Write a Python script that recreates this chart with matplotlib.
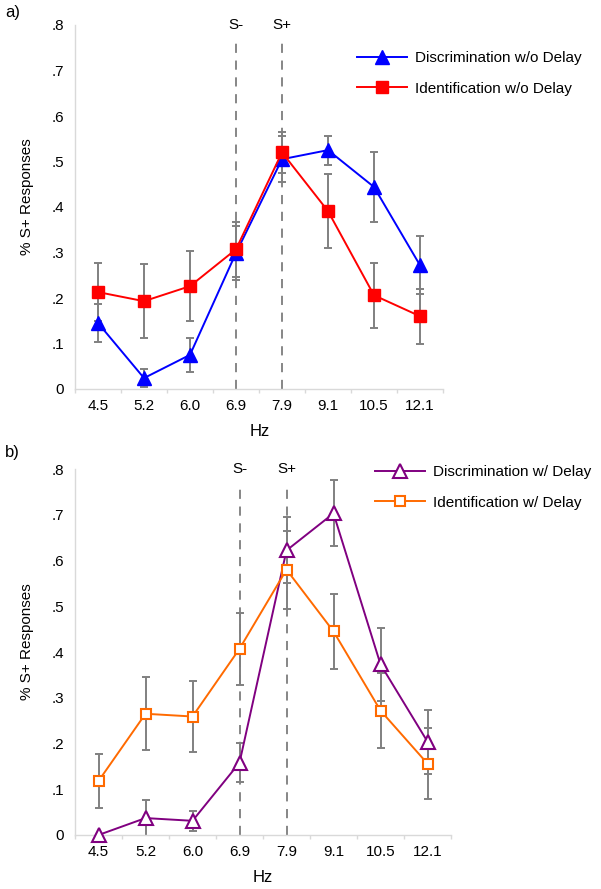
import numpy as np
import matplotlib
matplotlib.use("Agg")
import matplotlib.pyplot as plt

plt.rcParams['font.family'] = ['Liberation Sans', 'DejaVu Sans']

hz = ["4.5", "5.2", "6.0", "6.9", "7.9", "9.1", "10.5", "12.1"]

# panel a: without delay
disc_nodelay = [0.145, 0.024, 0.075, 0.299, 0.505, 0.525, 0.444, 0.272]
disc_nodelay_err = [0.041, 0.020, 0.038, 0.060, 0.050, 0.032, 0.077, 0.064]
ident_nodelay = [0.213, 0.193, 0.226, 0.307, 0.520, 0.391, 0.206, 0.160]
ident_nodelay_err = [0.064, 0.082, 0.077, 0.060, 0.045, 0.081, 0.071, 0.060]

# panel b: with delay
disc_delay = [0.0, 0.037, 0.031, 0.158, 0.622, 0.703, 0.373, 0.204]
disc_delay_err = [0.0, 0.039, 0.022, 0.043, 0.072, 0.072, 0.080, 0.070]
ident_delay = [0.118, 0.265, 0.259, 0.407, 0.580, 0.445, 0.272, 0.156]
ident_delay_err = [0.060, 0.080, 0.077, 0.079, 0.085, 0.082, 0.082, 0.077]

ytick_vals = [0, 0.1, 0.2, 0.3, 0.4, 0.5, 0.6, 0.7, 0.8]
ytick_labels = ["0", ".1", ".2", ".3", ".4", ".5", ".6", ".7", ".8"]

W, H = 601.0, 889.0
fig = plt.figure(figsize=(W / 100, H / 100), dpi=100)
# axes boxes in pixels: left, top(.8), right, bottom(0)
ax_a = fig.add_axes([75 / W, 1 - 389 / H, 368 / W, 364 / H])
ax_b = fig.add_axes([75 / W, 1 - 835 / H, 376 / W, 366 / H])

axis_gray = '#d9d9d9'
err_gray = '#808080'


def draw_panel(ax, s1, e1, s2, e2, style1, style2, labels, legend_xy, dash_top):
    x = np.arange(len(hz))
    for s, e in [(s1, e1), (s2, e2)]:
        ax.errorbar(x, s, yerr=e, fmt='none', ecolor=err_gray, elinewidth=1.4,
                    capsize=3.2, capthick=1.4, zorder=2)
    ax.plot(x, s1, label=labels[0], zorder=3, clip_on=False, **style1)
    ax.plot(x, s2, label=labels[1], zorder=3, clip_on=False, **style2)
    for xi, txt in [(3, "S-"), (4, "S+")]:
        ax.plot([xi, xi], [0, dash_top], color='#666666', lw=1.1,
                dashes=(6, 5), zorder=1, clip_on=False)
        ax.text(xi, 0.8, txt, ha='center', va='center', fontsize=11)
    ax.set_xlim(-0.5, 7.5)
    ax.set_ylim(0, 0.8)
    ax.set_xticks(x)
    ax.set_xticklabels(hz, fontsize=11)
    ax.set_xticks(np.arange(-0.5, 8.0, 1.0), minor=True)
    ax.tick_params(axis='x', which='major', length=0, pad=7)
    ax.tick_params(axis='x', which='minor', length=3, color=axis_gray, width=1)
    ax.set_yticks(ytick_vals)
    ax.set_yticklabels(ytick_labels, fontsize=11)
    ax.tick_params(axis='y', length=0, pad=8)
    for side in ['top', 'right']:
        ax.spines[side].set_visible(False)
    for side in ['left', 'bottom']:
        ax.spines[side].set_color(axis_gray)
        ax.spines[side].set_linewidth(1)
    ax.legend(loc='upper left', bbox_to_anchor=legend_xy,
              bbox_transform=fig.transFigure, frameon=False,
              fontsize=11, handlelength=3.3, handletextpad=0.5,
              labelspacing=1.1, borderaxespad=0, borderpad=0)


draw_panel(ax_a, disc_nodelay, disc_nodelay_err, ident_nodelay, ident_nodelay_err,
           dict(color='#0000ff', lw=1.4, marker='^', markersize=10,
                markerfacecolor='#0000ff', markeredgecolor='#0000ff'),
           dict(color='#ff0000', lw=1.4, marker='s', markersize=8,
                markerfacecolor='#ff0000', markeredgecolor='#ff0000'),
           ["Discrimination w/o Delay", "Identification w/o Delay"],
           (357 / W, 1 - 51 / H), 0.77)
draw_panel(ax_b, disc_delay, disc_delay_err, ident_delay, ident_delay_err,
           dict(color='#800080', lw=1.4, marker='^', markersize=10,
                markerfacecolor='white', markeredgecolor='#800080', markeredgewidth=1.5),
           dict(color='#ff6a00', lw=1.4, marker='s', markersize=7.5,
                markerfacecolor='white', markeredgecolor='#ff6a00', markeredgewidth=1.5),
           ["Discrimination w/ Delay", "Identification w/ Delay"],
           (375 / W, 1 - 465 / H), 0.77)

# panel letters, axis titles
fig.text(5 / W, 1 - 12 / H, "a)", fontsize=12, va='center', ha='left')
fig.text(5 / W, 1 - 452 / H, "b)", fontsize=12, va='center', ha='left')
fig.text(27 / W, 1 - 197 / H, "% S+ Responses", fontsize=11, rotation=90,
         va='center', ha='center')
fig.text(27 / W, 1 - 642 / H, "% S+ Responses", fontsize=11, rotation=90,
         va='center', ha='center')
fig.text(260 / W, 1 - 431 / H, "Hz", fontsize=12, va='center', ha='center')
fig.text(263 / W, 1 - 877 / H, "Hz", fontsize=12, va='center', ha='center')

fig.savefig("out.png", dpi=100)
